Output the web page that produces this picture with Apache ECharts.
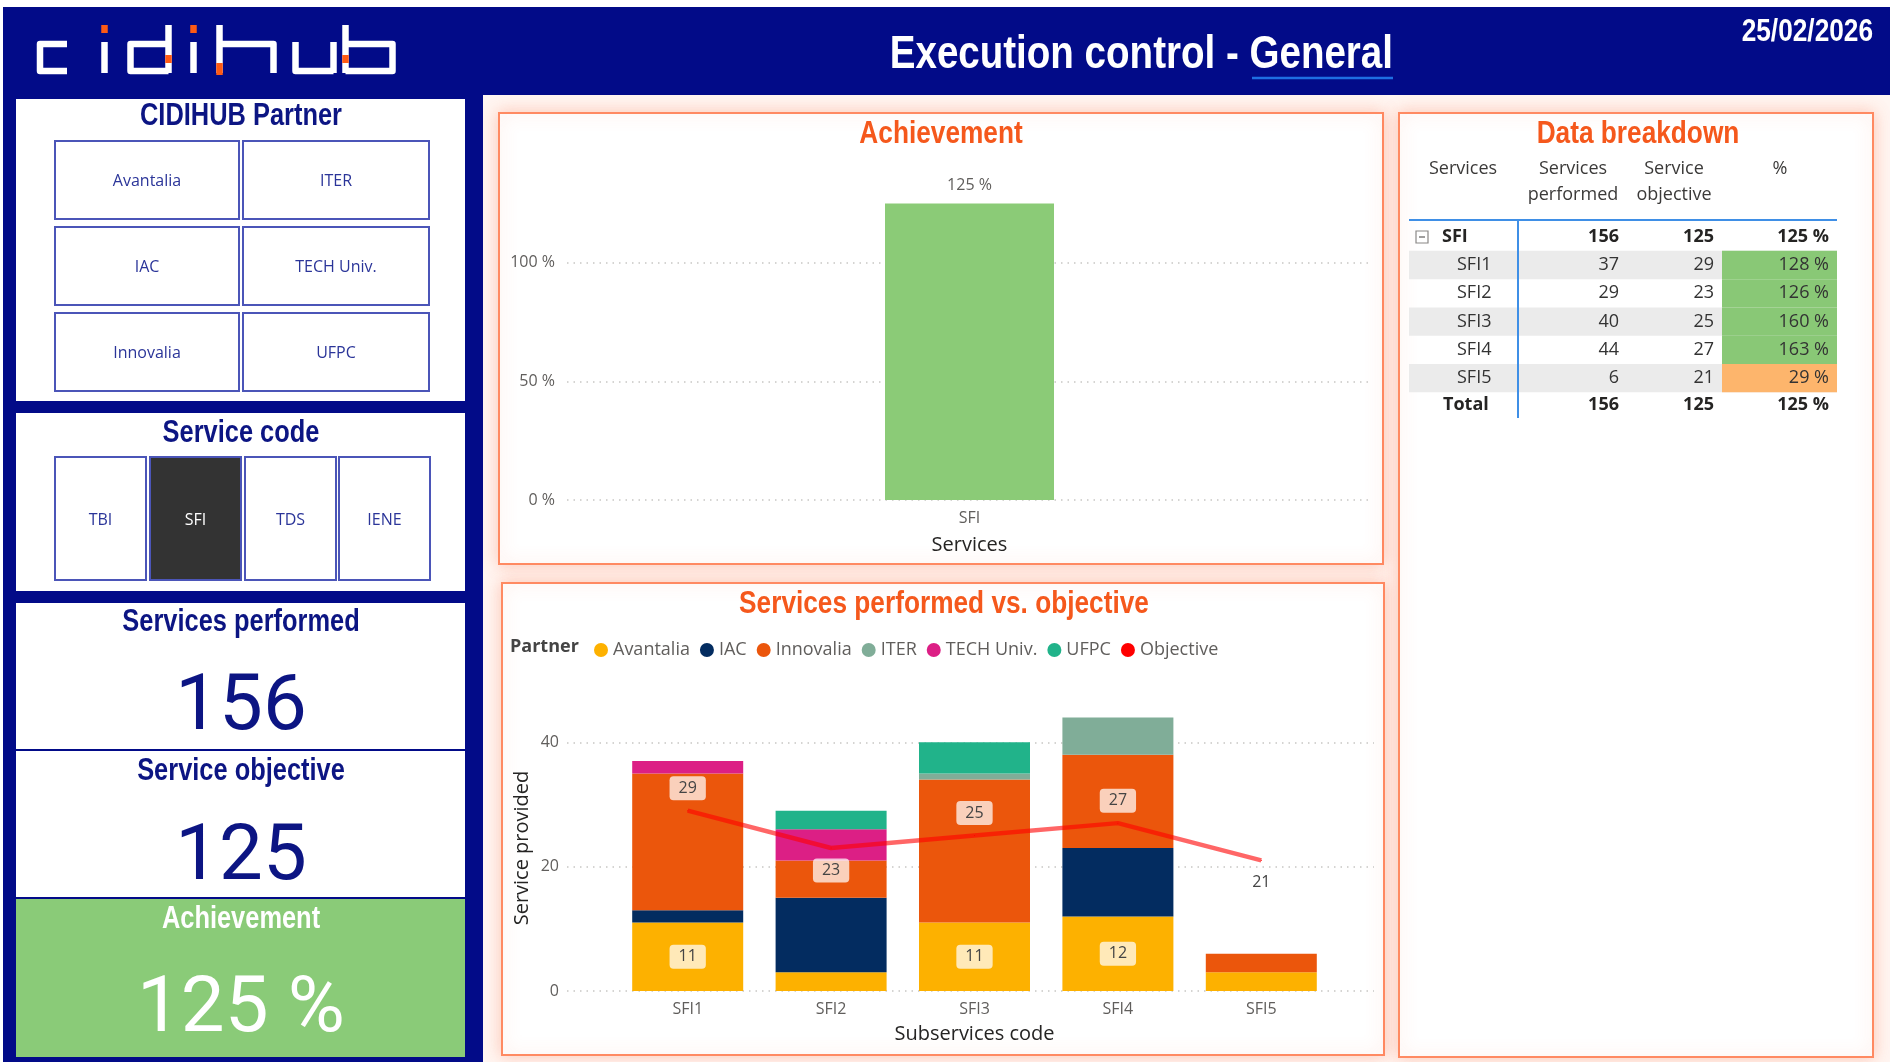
<!DOCTYPE html>
<html>
<head>
<meta charset="utf-8">
<title>Execution control - General</title>
<script src="https://cdn.jsdelivr.net/npm/echarts@6/dist/echarts.min.js"></script>
<style>
html,body{margin:0;padding:0;background:#fff;}
#main{width:1890px;height:1062px;}
</style>
</head>
<body>
<div id="main"></div>
<script>
// ---- data ----
const reportDate = '25/02/2026';
const partnerButtons = ['Avantalia','ITER','IAC','TECH Univ.','Innovalia','UFPC'];
const serviceCodes = ['TBI','SFI','TDS','IENE'];
const selectedCode = 'SFI';

const totalPerformed = 156;
const totalObjective = 125;
const achievementCats = ['SFI'];
const achievementPct = [125];

const subCodes = ['SFI1','SFI2','SFI3','SFI4','SFI5'];
const performed = [37,29,40,44,6];
const objective = [29,23,25,27,21];
const pctDone = [128,126,160,163,29];

const partnerNames = ['Avantalia','IAC','Innovalia','ITER','TECH Univ.','UFPC'];
const avantalia = [11,3,11,12,3];
const iac = [2,12,0,11,0];
const innovalia = [22,6,23,15,3];
const iter = [0,0,1,6,0];
const techUniv = [2,5,0,0,0];
const ufpc = [0,3,5,0,0];
const partnerColors = ['#FDB100','#032C60','#EB560C','#80AD98','#DC1F85','#21B38A'];

// ---- styles ----
const NAVY = '#020B88';
const NAVY_TXT = '#0C1583';
const TITLE_ORANGE = '#F5581C';
const PANEL_LINE = '#FF8A62';
const TITLE_FONT = '"Liberation Sans", Arial, sans-serif';   // squeezed with scaleX below
const NARROW = 0.82;
const UI_FONT = '"Open Sans", "Segoe UI", sans-serif';
const NUM_FONT = 'Roboto, sans-serif';

let el = document.getElementById('main');
let myChart = echarts.init(el);

let g = [];

function rect(x, y, w, h, style, z){
    g.push({type:'rect', z: z === undefined ? -5 : z, shape:{x:x, y:y, width:w, height:h}, style:style});
}
function txt(x, y, str, opt, sx){
    g.push({
        type:'text', z: 10, x:x, y:y, scaleX: sx || 1,
        style: Object.assign({
            text: String(str), fill:'#333', fontSize:18, fontFamily:UI_FONT,
            align:'center', verticalAlign:'middle'
        }, opt || {})
    });
}
function title(x, y, str, size, color, align){
    txt(x, y, str, {fill:color, fontSize:size, fontWeight:'bold', fontFamily:TITLE_FONT, align:align || 'center'}, NARROW);
}
function line(x1, y1, x2, y2, style, z){
    g.push({type:'line', z: z === undefined ? 6 : z, shape:{x1:x1, y1:y1, x2:x2, y2:y2}, style:style});
}

// page background + header + left column
rect(483, 95, 1407, 967, {fill:'#FFF6F2'}, -20);
rect(3, 7, 1887, 88, {fill:NAVY}, -20);
rect(3, 95, 480, 967, {fill:NAVY}, -20);

// logo (drawn)
const logoStrokes = [
    [[67,44],[40,44],[40,71],[67,71]],
    [[104.5,42],[104.5,73]],
    [[168.5,44],[130.5,44],[130.5,71],[168.5,71]],
    [[168.5,25],[168.5,73]],
    [[193.5,42],[193.5,73]],
    [[219.5,25],[219.5,73]],
    [[219.5,44],[273.5,44],[273.5,73]],
    [[295.5,42],[295.5,71],[333.5,71]],
    [[333.5,42],[333.5,73]],
    [[345.5,25],[345.5,73]],
    [[345.5,44],[392.5,44],[392.5,71],[345.5,71]]
];
logoStrokes.forEach(function(p){
    g.push({type:'polyline', z:8, shape:{points:p}, style:{stroke:'#fff', lineWidth:6.5, fill:null, lineJoin:'round'}});
});
[[101.25,25,6.5,8],[165.25,55,6.5,8],[190.25,25,6.5,8],[216.25,63,6.5,12],[342.25,55,6.5,8]].forEach(function(r){
    rect(r[0], r[1], r[2], r[3], {fill:'#FF5A14'}, 9);
});

// header texts
title(1393, 55, 'Execution control - General', 47, '#fff', 'right');
line(1252, 78, 1393, 78, {stroke:'#1E6FE3', lineWidth:2.5}, 9);
title(1873, 32, reportDate, 32, '#fff', 'right');

// left: partner slicer
rect(16, 99, 449, 302, {fill:'#fff'}, -10);
title(241, 116, 'CIDIHUB Partner', 31, NAVY_TXT);
const colX = [55, 243], colW = [184, 186];
const rowY = [141, 227, 313];
partnerButtons.forEach(function(p, i){
    let c = i % 2, r = Math.floor(i / 2);
    rect(colX[c], rowY[r], colW[c], 78, {fill:'#fff', stroke:'#4B55B8', lineWidth:2}, -4);
    txt(colX[c] + colW[c] / 2, rowY[r] + 40, p, {fill:'#2B3599', fontSize:16});
});

// left: service code slicer
rect(16, 413, 449, 178, {fill:'#fff'}, -10);
title(241, 433, 'Service code', 31, NAVY_TXT);
const codeX = [55, 150, 245, 339];
serviceCodes.forEach(function(c, i){
    let sel = c === selectedCode;
    rect(codeX[i], 457, 91, 123, {fill: sel ? '#333333' : '#fff', stroke:'#4B55B8', lineWidth:2}, -4);
    txt(codeX[i] + 45.5, 520, c, {fill: sel ? '#fff' : '#2B3599', fontSize:16});
});

// left: KPI cards
rect(16, 603, 449, 146, {fill:'#fff'}, -10);
title(241, 622, 'Services performed', 31, NAVY_TXT);
txt(241, 709, totalPerformed, {fill:NAVY_TXT, fontSize:78, fontFamily:NUM_FONT});
rect(16, 751, 449, 146, {fill:'#fff'}, -10);
title(241, 771, 'Service objective', 31, NAVY_TXT);
txt(241, 859, totalObjective, {fill:NAVY_TXT, fontSize:78, fontFamily:NUM_FONT});
rect(16, 899, 449, 158, {fill:'#8ACB78'}, -10);
title(241, 919, 'Achievement', 31, '#fff');
txt(241, 1011, achievementPct[0] + ' %', {fill:'#fff', fontSize:78, fontFamily:NUM_FONT});

// report panels
const panelStyle = {fill:'#fff', stroke:PANEL_LINE, lineWidth:2, shadowBlur:16, shadowColor:'rgba(250,120,80,0.35)'};
rect(499, 113, 884, 451, panelStyle, -10);
rect(502, 583, 882, 472, panelStyle, -10);
rect(1399, 113, 474, 944, panelStyle, -10);
title(941, 134, 'Achievement', 32, TITLE_ORANGE);
title(944, 604, 'Services performed vs. objective', 32, TITLE_ORANGE);
title(1638, 134, 'Data breakdown', 32, TITLE_ORANGE);
txt(510, 647, 'Partner', {fill:'#444', fontSize:18, fontWeight:'bold', align:'left'});

// data breakdown table
const hdr = {fill:'#3B3A39', fontSize:18};
txt(1463, 169, 'Services', hdr);
txt(1573, 169, 'Services', hdr);
txt(1573, 195, 'performed', hdr);
txt(1674, 169, 'Service', hdr);
txt(1674, 195, 'objective', hdr);
txt(1780, 169, '%', hdr);

const colRight = [1619, 1714, 1829];
const rowStart = 265, rowH = 28.3;
subCodes.forEach(function(code, i){
    let cy = rowStart + i * rowH;
    if(i % 2 === 0) rect(1409, cy - rowH / 2, 428, rowH, {fill:'#EBEBEB'}, -4);
    rect(1722, cy - rowH / 2, 115, rowH, {fill: pctDone[i] >= 100 ? '#89C876' : '#FDB56C'}, -3);
    let s = {fill:'#333', fontSize:18};
    txt(1457, cy, code, Object.assign({align:'left'}, s));
    txt(colRight[0], cy, performed[i], Object.assign({align:'right'}, s));
    txt(colRight[1], cy, objective[i], Object.assign({align:'right'}, s));
    txt(colRight[2], cy, pctDone[i] + ' %', Object.assign({align:'right'}, s));
});
const bold = {fill:'#252423', fontSize:18, fontWeight:'bold'};
[[237, selectedCode, 1442], [405, 'Total', 1443]].forEach(function(r){
    txt(r[2], r[0], r[1], Object.assign({align:'left'}, bold));
    txt(colRight[0], r[0], totalPerformed, Object.assign({align:'right'}, bold));
    txt(colRight[1], r[0], totalObjective, Object.assign({align:'right'}, bold));
    txt(colRight[2], r[0], achievementPct[0] + ' %', Object.assign({align:'right'}, bold));
});
// expand/collapse box
rect(1416, 231, 12, 12, {fill:'#fff', stroke:'#8A8886', lineWidth:1.2}, 6);
line(1419, 237, 1425, 237, {stroke:'#605E5C', lineWidth:1.2}, 7);
line(1409, 220, 1837, 220, {stroke:'#3F8FE6', lineWidth:2});
line(1518, 220, 1518, 418, {stroke:'#3F8FE6', lineWidth:2});

// ---- charts ----
const tickLabel = {fontSize:16, color:'#605E5C', fontFamily:UI_FONT};
const axisName = {fontSize:20, color:'#252423', fontFamily:UI_FONT};
const gridLine = {lineStyle:{type:[1.5,5], color:'#C8C6C4', width:1.5}, showMaxLine:false};
const valueLabel = {
    color:'#444', fontSize:16, fontFamily:UI_FONT,
    backgroundColor:'rgba(255,255,255,0.72)', padding:[4,9], borderRadius:4
};

let series = [{
    type:'bar', xAxisIndex:0, yAxisIndex:0,
    data: achievementPct, barWidth:169,
    itemStyle:{color:'#8BCB77'},
    label:{show:true, position:'top', distance:10, formatter:'{c} %', color:'#605E5C', fontSize:16, fontFamily:UI_FONT}
}];

const stacks = [avantalia, iac, innovalia, iter, techUniv, ufpc];
stacks.forEach(function(arr, k){
    let s = {
        type:'bar', name: partnerNames[k], stack:'partner',
        xAxisIndex:1, yAxisIndex:1, barWidth:111,
        itemStyle:{color: partnerColors[k]},
        data: arr
    };
    if(k === 0){
        s.data = arr.map(function(v){ return {value:v, label:{show: v >= 10}}; });
        s.label = Object.assign({position:'inside'}, valueLabel);
    }
    series.push(s);
});

const objLabelPos = ['top','bottom','top','top','bottom'];
series.push({
    type:'line', name:'Objective', xAxisIndex:1, yAxisIndex:1,
    symbol:'circle', symbolSize:1,
    itemStyle:{color:'#FF0000'},
    lineStyle:{color:'rgba(255,0,0,0.6)', width:4.5},
    z:5,
    data: objective.map(function(v, i){
        let lab = {position: objLabelPos[i]};
        if(i === objective.length - 1) lab.backgroundColor = 'transparent';
        return {value:v, label:lab};
    }),
    label: Object.assign({show:true, distance:10}, valueLabel)
});

let option = {
    animation:false,
    backgroundColor:'#ffffff',
    graphic: g,
    legend:{
        data: partnerNames.concat(['Objective']),
        left:589, top:636, icon:'circle',
        itemWidth:14, itemHeight:14, itemGap:10,
        textStyle:{fontSize:18, color:'#605E5C', fontFamily:UI_FONT}
    },
    grid:[
        {left:567, right:518, top:168, bottom:562},
        {left:616, right:557, top:705, bottom:71},
        {left:567, right:516, top:705, bottom:71}
    ],
    xAxis:[
        {gridIndex:0, type:'category', data:achievementCats,
            axisLine:{show:false}, axisTick:{show:false},
            axisLabel:Object.assign({margin:10}, tickLabel),
            name:'Services', nameLocation:'middle', nameGap:35, nameTextStyle:axisName},
        {gridIndex:1, type:'category', data:subCodes,
            axisLine:{show:false}, axisTick:{show:false},
            axisLabel:Object.assign({margin:10}, tickLabel),
            name:'Subservices code', nameLocation:'middle', nameGap:33, nameTextStyle:axisName},
        {gridIndex:2, type:'value', min:0, max:1, show:false}
    ],
    yAxis:[
        {gridIndex:0, type:'value', min:0, max:140, interval:50,
            axisLine:{show:false}, axisTick:{show:false},
            axisLabel:Object.assign({margin:12, formatter:'{value} %', showMaxLabel:false}, tickLabel),
            splitLine:gridLine},
        {gridIndex:1, type:'value', min:0, max:46, interval:20, show:false},
        {gridIndex:2, type:'value', min:0, max:46, interval:20,
            axisLine:{show:false}, axisTick:{show:false},
            axisLabel:Object.assign({margin:8, showMaxLabel:false}, tickLabel),
            splitLine:gridLine,
            name:'Service provided', nameLocation:'middle', nameGap:35, nameTextStyle:axisName}
    ],
    series: series
};

myChart.setOption(option);
</script>
</body>
</html>
